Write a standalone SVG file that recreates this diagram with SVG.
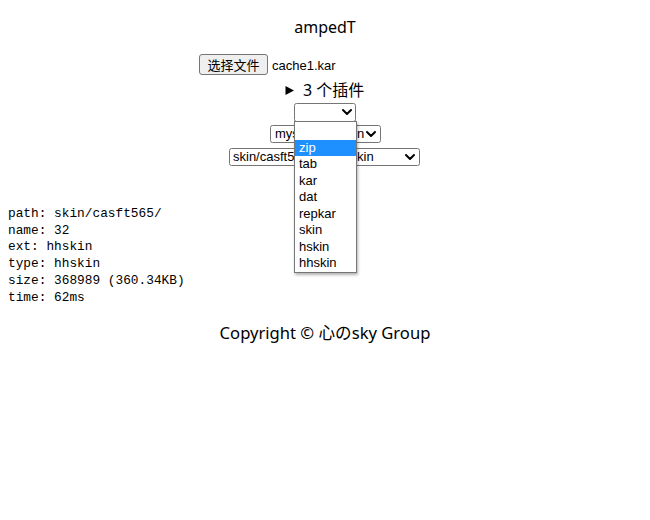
<svg xmlns="http://www.w3.org/2000/svg" width="650" height="520" viewBox="0 0 650 520">
<defs>
<style>
.ui{font-family:"Noto Sans","Noto Sans CJK SC",sans-serif;fill:#000}
.ar{font-family:"Liberation Sans","Noto Sans CJK SC",sans-serif;font-size:13px;fill:#000}
.mono{font-family:"Liberation Mono","DejaVu Sans Mono",monospace;font-size:12.8px;fill:#000}
.sel{fill:#fff;stroke:#767676;stroke-width:1}
.chev{fill:none;stroke:#000;stroke-width:2;stroke-linecap:round;stroke-linejoin:round}
</style>
<filter id="sh" x="-20%" y="-10%" width="150%" height="130%">
<feDropShadow dx="1" dy="2" stdDeviation="1.5" flood-color="#000" flood-opacity="0.3"/>
</filter>
</defs>
<rect width="650" height="520" fill="#fff"/>
<g id="title"><text class="ui" x="325" y="33" font-size="16" text-anchor="middle">ampedT</text></g>
<g id="file-input">
<rect x="199.5" y="54.5" width="68" height="20" rx="2.5" fill="#efefef" stroke="#767676"/>
<text class="ar" x="233.5" y="70" text-anchor="middle">选择文件</text>
<text class="ar" x="272" y="70">cache1.kar</text>
</g>
<g id="summary">
<path d="M285.5 86 L294 90.5 L285.5 95 Z" fill="#000"/>
<text class="ui" x="303" y="96" font-size="16">3 个插件</text>
</g>
<g id="select3">
<rect class="sel" x="229.5" y="148.5" width="190" height="17" rx="2"/>
<text class="ar" x="233" y="161">skin/casft5</text>
<text class="ar" x="357" y="161">kin</text>
<path class="chev" d="M406 155 L410 159 L414 155"/>
</g>
<g id="select2">
<rect class="sel" x="270.5" y="125.5" width="110" height="17" rx="2"/>
<text class="ar" x="275" y="138">mys</text>
<text class="ar" x="357" y="138">n</text>
<path class="chev" d="M367 132 L371 136 L375 132"/>
</g>
<g id="select1">
<rect class="sel" x="294.5" y="103.5" width="61" height="18" rx="2" stroke="#333"/>
<path class="chev" d="M343 110 L347 114 L351 110"/>
</g>
<g id="dropdown">
<rect x="294.5" y="121.5" width="62" height="151" fill="#fff" stroke="#767676" filter="url(#sh)"/>
<rect x="295" y="140" width="61" height="16" fill="#1e90ff"/>
<text class="ar" x="299" y="152" style="fill:#fff">zip</text>
<text class="ar" x="299" y="168">tab</text>
<text class="ar" x="299" y="185">kar</text>
<text class="ar" x="299" y="201">dat</text>
<text class="ar" x="299" y="218">repkar</text>
<text class="ar" x="299" y="234">skin</text>
<text class="ar" x="299" y="251">hskin</text>
<text class="ar" x="299" y="267">hhskin</text>
</g>
<g id="info">
<text class="mono" x="8" y="217">path: skin/casft565/</text>
<text class="mono" x="8" y="234">name: 32</text>
<text class="mono" x="8" y="250">ext: hhskin</text>
<text class="mono" x="8" y="267">type: hhskin</text>
<text class="mono" x="8" y="284">size: 368989 (360.34KB)</text>
<text class="mono" x="8" y="301">time: 62ms</text>
</g>
<g id="footer"><text class="ui" x="325" y="339" font-size="16.6" text-anchor="middle">Copyright © 心のsky Group</text></g>
<g id="connectors"/>
</svg>
